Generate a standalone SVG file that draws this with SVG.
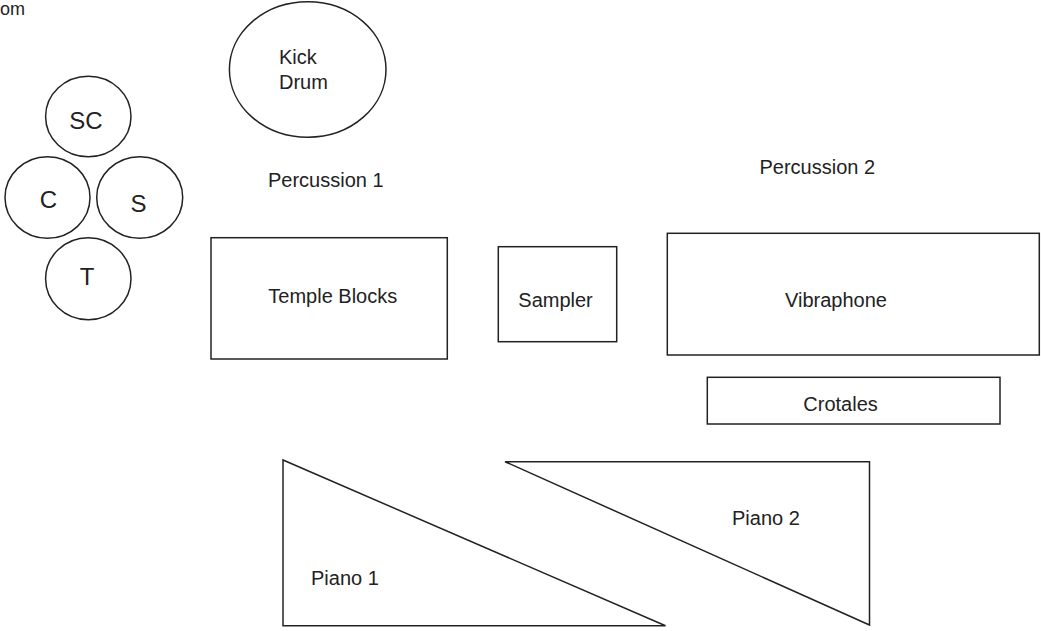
<svg xmlns="http://www.w3.org/2000/svg" width="1041" height="631" viewBox="0 0 1041 631">
<style>
.s{fill:#fff;stroke:#222;stroke-width:1.5}
.t{font-family:"Liberation Sans",Arial,sans-serif;font-size:20px;fill:#222}
.b{font-family:"Liberation Sans",Arial,sans-serif;font-size:24px;fill:#222;text-anchor:middle}
</style>
<rect width="1041" height="631" fill="#fff"/>
<text class="t" x="0" y="15" style="font-size:18px">om</text>
<g id="sc"><ellipse class="s" cx="88.3" cy="116.5" rx="42.7" ry="40.3"/><text class="b" x="86" y="129">SC</text></g>
<g id="c"><ellipse class="s" cx="47.5" cy="197.5" rx="42.5" ry="40.8"/><text class="b" x="48.5" y="208">C</text></g>
<g id="s"><ellipse class="s" cx="139.7" cy="197.5" rx="43" ry="40.8"/><text class="b" x="138.5" y="212">S</text></g>
<g id="t"><ellipse class="s" cx="88.3" cy="278.8" rx="42.7" ry="41"/><text class="b" x="87" y="285">T</text></g>
<g id="kick"><ellipse class="s" cx="307.7" cy="69.5" rx="78.3" ry="67.8"/><text class="t" x="279" y="63.5">Kick</text><text class="t" x="279" y="88.5">Drum</text></g>
<g id="perc1"><text class="t" x="268" y="187">Percussion 1</text></g>
<g id="perc2"><text class="t" x="759.5" y="174">Percussion 2</text></g>
<g id="temple"><rect class="s" x="211" y="237.7" width="236.3" height="121.3"/><text class="t" x="268.3" y="302.5">Temple Blocks</text></g>
<g id="sampler"><rect class="s" x="498.3" y="246.7" width="118.4" height="95"/><text class="t" x="518.3" y="307">Sampler</text></g>
<g id="vibraphone"><rect class="s" x="667.3" y="233.3" width="372" height="121.7"/><text class="t" x="785" y="306.5">Vibraphone</text></g>
<g id="crotales"><rect class="s" x="707.3" y="377.3" width="292.7" height="46.7"/><text class="t" x="803.3" y="410.5">Crotales</text></g>
<g id="piano1"><polygon class="s" points="283,460 283,625.7 665.5,625.7"/><text class="t" x="311" y="585">Piano 1</text></g>
<g id="piano2"><polygon class="s" points="505,461.7 869.5,461.7 869.5,625"/><text class="t" x="732" y="525">Piano 2</text></g>
<g id="connectors"></g>
</svg>
